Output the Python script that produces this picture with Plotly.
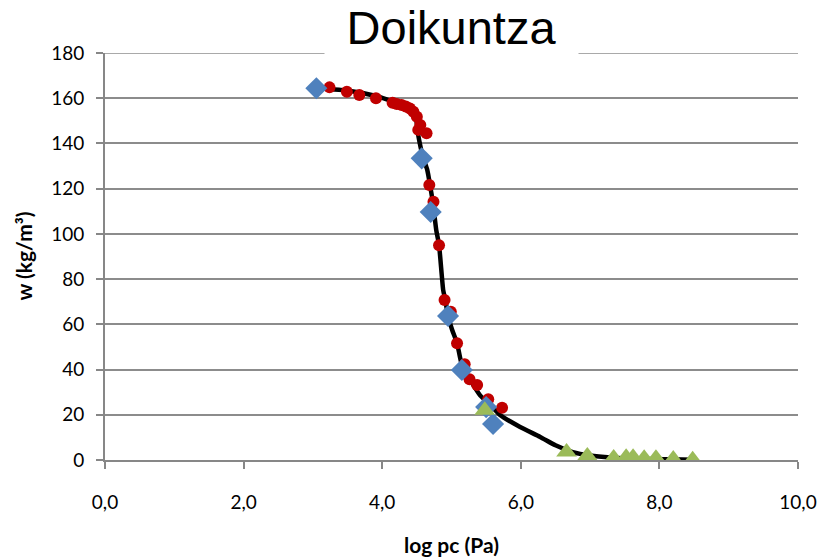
import plotly.graph_objects as go

# Fitted curve
fit_x = [3.06, 3.54, 3.91, 4.18, 4.33, 4.43, 4.49, 4.52, 4.59, 4.65, 4.69, 4.73, 4.78, 4.82,
         4.88, 4.91, 4.95, 5.01, 5.08, 5.15, 5.27, 5.41, 5.56, 5.70, 5.99, 6.28, 6.50, 6.75,
         7.00, 7.30, 7.72, 8.48]
fit_y = [164.5, 163.2, 161.0, 158.3, 156.6, 153.9, 150.4, 143.7, 133.8, 128.3, 121.6, 114.1,
         101.7, 95.1, 75.2, 70.8, 63.7, 57.5, 51.7, 42.0, 35.4, 28.7, 24.3, 19.9, 14.6, 10.2,
         6.5, 3.5, 2.0, 1.1, 0.5, 0.1]

# Red circles
red_x = [3.24, 3.49, 3.67, 3.91, 4.15, 4.21, 4.28, 4.34, 4.40, 4.45, 4.50, 4.55, 4.52, 4.64,
         4.68, 4.74, 4.82, 4.90, 4.99, 5.08, 5.19, 5.26, 5.37, 5.53, 5.73]
red_y = [164.8, 162.9, 161.4, 160.0, 158.0, 157.4, 157.0, 156.3, 155.5, 154.0, 151.8, 148.2,
         146.0, 144.5, 121.6, 114.2, 95.0, 70.8, 65.6, 51.6, 42.3, 35.7, 33.2, 26.9, 23.1]

# Blue diamonds
blue_x = [3.05, 4.57, 4.70, 4.95, 5.15, 5.50, 5.60]
blue_y = [164.4, 133.4, 109.7, 63.7, 39.8, 23.4, 15.9]

# Green triangles
green_x = [5.48, 6.66, 6.96, 7.34, 7.52, 7.62, 7.78, 7.95, 8.20, 8.48]
green_y = [22.0, 3.5, 1.8, 0.9, 1.2, 1.2, 0.8, 0.8, 0.4, 0.1]

x_ticks = [0, 2, 4, 6, 8, 10]
y_ticks = [0, 20, 40, 60, 80, 100, 120, 140, 160, 180]

fig = go.Figure()
fig.add_trace(go.Scatter(x=fit_x, y=fit_y, mode="lines",
                         line=dict(color="black", width=4.5, shape="spline", smoothing=0.6),
                         showlegend=False, hoverinfo="skip"))
fig.add_trace(go.Scatter(x=red_x, y=red_y, mode="markers",
                         marker=dict(symbol="circle", size=12, color="#C00000"),
                         showlegend=False))
fig.add_trace(go.Scatter(x=blue_x, y=blue_y, mode="markers",
                         marker=dict(symbol="diamond", size=17, color="#4F81BD"),
                         showlegend=False))
fig.add_trace(go.Scatter(x=green_x, y=green_y, mode="markers",
                         marker=dict(symbol="triangle-up", size=18, color="#9BBB59"),
                         showlegend=False))

tick_font = dict(family="Lato, Open Sans, sans-serif", size=19, color="black")
title_font = dict(family="Lato, Open Sans, sans-serif", size=21, color="black")

# top gridline (plotly drops the gridline lying on the plot edge)
fig.add_shape(type="line", xref="paper", yref="y", x0=0, x1=1,
              y0=y_ticks[-1], y1=y_ticks[-1], layer="below",
              line=dict(color="#8c8c8c", width=1.5))

fig.update_layout(
    width=820, height=557,
    margin=dict(l=105, r=22, t=53, b=97, autoexpand=False),
    paper_bgcolor="white", plot_bgcolor="white",
    separators=",.",
    xaxis=dict(range=[0, 10], tickvals=x_ticks, tickformat=".1f", automargin=False,
               showgrid=False, zeroline=False,
               showline=True, linecolor="#878787", linewidth=2,
               ticks="outside", ticklen=7, tickcolor="#878787", tickwidth=2,
               ticklabelstandoff=17,
               tickfont=tick_font,
               title=dict(text="<b>log pc (Pa)</b>", standoff=32, font=title_font)),
    yaxis=dict(range=[0, 180], tickvals=y_ticks, automargin=False,
               showgrid=True, gridcolor="#8c8c8c", gridwidth=1.5, zeroline=False,
               showline=True, linecolor="#878787", linewidth=2,
               ticks="outside", ticklen=7, tickcolor="#878787", tickwidth=2,
               ticklabelstandoff=8,
               tickfont=tick_font),
    annotations=[
        dict(text="Doikuntza", xref="paper", yref="paper", x=0.5, y=1,
             xanchor="center", yanchor="middle", yshift=26, showarrow=False,
             bgcolor="white", borderpad=4, width=245,
             font=dict(family="Liberation Sans, Arial", size=47, color="black")),
        dict(text="<b>w (kg/m³)</b>", xref="paper", yref="paper", x=0, y=0.5,
             xanchor="center", yanchor="middle", xshift=-82, textangle=-90,
             showarrow=False, font=title_font),
    ],
)

fig.write_html("out.html", config={"displayModeBar": False},
               post_script="document.body.style.margin='0';document.body.style.padding='0';")
